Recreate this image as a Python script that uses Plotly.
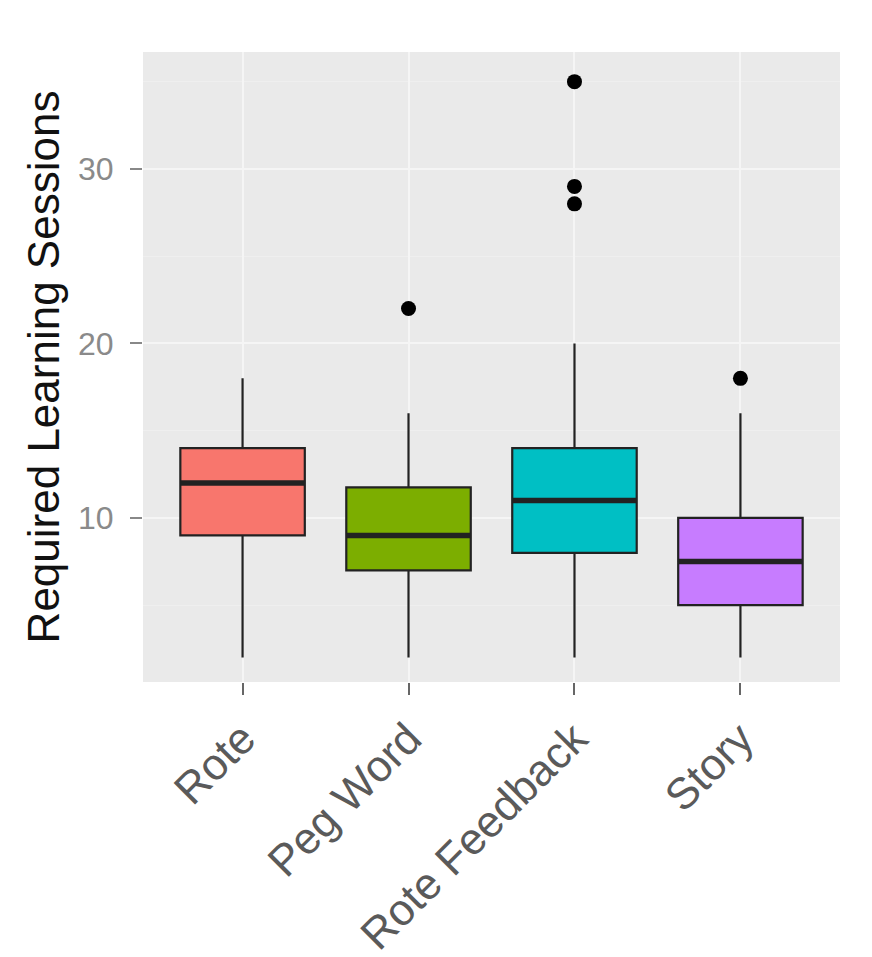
import plotly.graph_objects as go

categories = ["Rote", "Peg Word", "Rote Feedback", "Story"]
q1 = [9, 7, 8, 5]
median = [12, 9, 11, 7.5]
q3 = [14, 11.75, 14, 10]
lower = [2, 2, 2, 2]
upper = [18, 16, 20, 16]
outliers = [[], [22], [35, 29, 28], [18]]
colors = ["#F8766D", "#7CAE00", "#00BFC4", "#C77CFF"]
y_ticks = [10, 20, 30]
y_minor = [5, 15, 25, 35]

box_width = 0.75
fig = go.Figure()
for i, cat in enumerate(categories):
    pos = i + 1
    fig.add_trace(go.Box(
        x=[pos], q1=[q1[i]], median=[median[i]], q3=[q3[i]],
        lowerfence=[lower[i]], upperfence=[upper[i]],
        width=box_width, fillcolor=colors[i],
        line=dict(color="#222222", width=2.2), whiskerwidth=0,
        boxpoints=False, name=cat, showlegend=False, hoverinfo="skip",
    ))
    fig.add_trace(go.Scatter(
        x=[pos - box_width / 2, pos + box_width / 2], y=[median[i], median[i]],
        mode="lines", line=dict(color="#222222", width=5.5),
        showlegend=False, hoverinfo="skip",
    ))
    if outliers[i]:
        fig.add_trace(go.Scatter(
            x=[pos] * len(outliers[i]), y=outliers[i], mode="markers",
            marker=dict(color="black", size=15),
            showlegend=False, hoverinfo="skip",
        ))

fig.update_layout(
    width=872, height=957,
    margin=dict(l=135, r=40, t=44, b=283, autoexpand=False),
    paper_bgcolor="white", plot_bgcolor="#EAEAEA",
    font=dict(family="Liberation Sans, Arial, sans-serif"),
)
fig.update_xaxes(
    range=[0.4, 4.6], tickvals=[1, 2, 3, 4], ticktext=categories,
    tickangle=-45, tickfont=dict(size=44, color="#5a5a5a"),
    ticks="outside", ticklen=12, tickcolor="#666666", tickwidth=2,
    showgrid=True, gridcolor="#F5F5F5", gridwidth=2, zeroline=False,
    showline=False, automargin=False,
)
fig.update_yaxes(
    range=[0.6, 36.7], tickvals=y_ticks,
    tickfont=dict(size=32, color="#8a8a8a"), ticklabelstandoff=10,
    ticks="outside", ticklen=12, tickcolor="#888888", tickwidth=2,
    showgrid=True, gridcolor="#F5F5F5", gridwidth=2, zeroline=False,
    minor=dict(tickvals=y_minor, showgrid=True, gridcolor="#EFEFEF", gridwidth=1, ticks=""),
    title=dict(text="Required Learning Sessions", font=dict(size=44, color="#111111"), standoff=4),
    automargin=False,
)

fig.write_html("out.html")
